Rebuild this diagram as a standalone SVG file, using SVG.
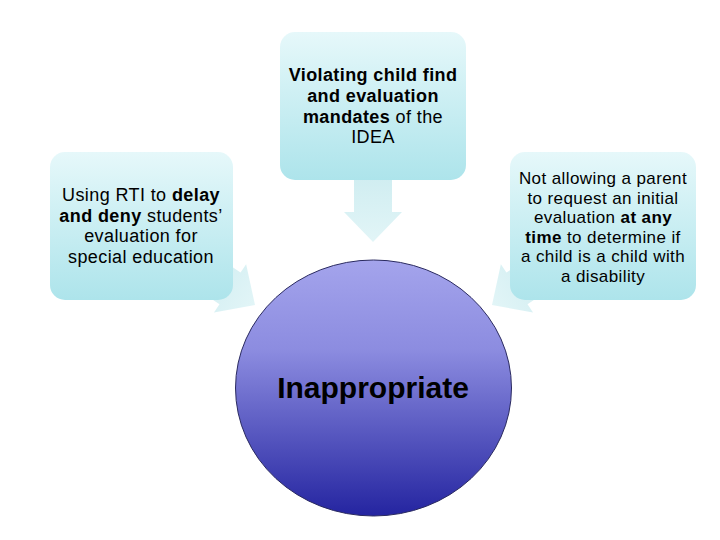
<svg xmlns="http://www.w3.org/2000/svg" width="720" height="540" viewBox="0 0 720 540">
  <style>
    .t { font-family: "Liberation Sans", Arial, sans-serif; fill: #000; text-anchor: middle; letter-spacing: 0.4px; }
    .b { font-weight: bold; }
    .box { fill: url(#boxGrad); }
    .arr { fill: url(#arrGrad); }
  </style>
  <defs>
    <linearGradient id="boxGrad" x1="0" y1="0" x2="0" y2="1">
      <stop offset="0" stop-color="#e6f8fa"/>
      <stop offset="1" stop-color="#ade4eb"/>
    </linearGradient>
    <linearGradient id="arrGrad" x1="0" y1="0" x2="1" y2="0">
      <stop offset="0" stop-color="#cdecf0"/>
      <stop offset="1" stop-color="#e2f5f7"/>
    </linearGradient>
    <linearGradient id="circGrad" x1="0" y1="0" x2="0" y2="1">
      <stop offset="0" stop-color="#a4a4ec"/>
      <stop offset="0.35" stop-color="#8c8ce0"/>
      <stop offset="1" stop-color="#2424a0"/>
    </linearGradient>
    <path id="arrowShape" d="M -75 -19 L -30 -19 L -30 -29 L 0 0 L -30 29 L -30 19 L -75 19 Z"/>
  </defs>

  <rect width="720" height="540" fill="#ffffff"/>

  <g id="connectors">
    <use href="#arrowShape" class="arr" transform="translate(373 242) rotate(90)"/>
    <use href="#arrowShape" class="arr" transform="translate(255 305) rotate(33.7)"/>
    <use href="#arrowShape" class="arr" transform="translate(492 305) rotate(146.3)"/>
  </g>

  <g id="node-top">
    <rect class="box" x="280" y="32" width="186" height="148" rx="15" ry="15"/>
    <text class="t" font-size="18" x="373" y="81"><tspan class="b">Violating child find</tspan></text>
    <text class="t" font-size="18" x="373" y="102"><tspan class="b">and evaluation</tspan></text>
    <text class="t" font-size="18" x="373" y="123"><tspan class="b">mandates</tspan> of the</text>
    <text class="t" font-size="18" x="373" y="143">IDEA</text>
  </g>

  <g id="node-left">
    <rect class="box" x="50" y="152" width="183" height="148" rx="15" ry="15"/>
    <text class="t" font-size="18" x="141" y="201">Using RTI to <tspan class="b">delay</tspan></text>
    <text class="t" font-size="18" x="141" y="222"><tspan class="b">and deny</tspan> students’</text>
    <text class="t" font-size="18" x="141" y="242">evaluation for</text>
    <text class="t" font-size="18" x="141" y="263">special education</text>
  </g>

  <g id="node-right">
    <rect class="box" x="510" y="152" width="186" height="148" rx="15" ry="15"/>
    <text class="t" font-size="17" x="603" y="184">Not allowing a parent</text>
    <text class="t" font-size="17" x="603" y="203.5">to request an initial</text>
    <text class="t" font-size="17" x="603" y="223">evaluation <tspan class="b">at any</tspan></text>
    <text class="t" font-size="17" x="603" y="242.5"><tspan class="b">time</tspan> to determine if</text>
    <text class="t" font-size="17" x="603" y="262">a child is a child with</text>
    <text class="t" font-size="17" x="603" y="281.5">a disability</text>
  </g>

  <g id="node-center">
    <ellipse cx="373.5" cy="388" rx="138" ry="128" fill="url(#circGrad)" stroke="#2a2a60" stroke-width="1"/>
    <text class="t b" font-size="30" x="373" y="398" style="letter-spacing:0">Inappropriate</text>
  </g>
</svg>
